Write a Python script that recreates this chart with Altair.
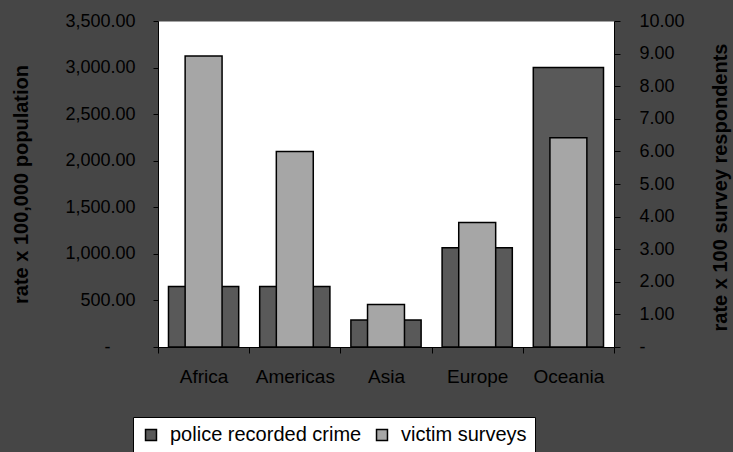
import altair as alt
import pandas as pd

regions = ["Africa", "Americas", "Asia", "Europe", "Oceania"]
police = [650, 650, 290, 1065, 3000]
victim = [8.93, 6.0, 1.3, 3.82, 6.42]
series_names = ["police recorded crime", "victim surveys"]
series_colors = ["#595959", "#a6a6a6"]
left_ticks = [0, 500, 1000, 1500, 2000, 2500, 3000, 3500]
right_ticks = [0, 1, 2, 3, 4, 5, 6, 7, 8, 9, 10]

df = pd.DataFrame({
    "region": regions * 2,
    "series": [series_names[0]] * len(regions) + [series_names[1]] * len(regions),
    "value": police + victim,
})

FONT = "Liberation Sans"
ZERO_LEFT = "-" + "\u00a0" * 5 + "\u200b"

x_enc = alt.X(
    "region:N", sort=regions,
    scale=alt.Scale(paddingInner=0, paddingOuter=0),
    axis=alt.Axis(title=None, tickBand="extent", labelAngle=0, labelFontSize=19,
                  labelFont=FONT, labelColor="#000", domainColor="#000", tickColor="#000",
                  tickSize=6, labelPadding=14, domainWidth=1, tickWidth=1, grid=False),
)

color_enc = alt.Color(
    "series:N",
    scale=alt.Scale(domain=series_names, range=series_colors),
    legend=alt.Legend(title=None, orient="none", legendX=-25, legendY=396,
                      direction="horizontal", fillColor="white", strokeColor="black",
                      padding=8, symbolType="square", symbolSize=120,
                      symbolStrokeColor="black", symbolStrokeWidth=1.5, symbolOpacity=1,
                      labelFontSize=20, labelFont=FONT, labelColor="#000", labelLimit=400,
                      labelOffset=9, columnPadding=10),
)

dark = alt.Chart(df).transform_filter(
    alt.datum.series == series_names[0]
).mark_bar(width=alt.RelativeBandSize(0.77), stroke="black", strokeWidth=1.5, opacity=1).encode(
    x=x_enc,
    y=alt.Y("value:Q", scale=alt.Scale(domain=[0, 3500], nice=False),
            axis=alt.Axis(orient="left", values=left_ticks, grid=False,
                          labelExpr="datum.value == 0 ? '" + ZERO_LEFT + "' : format(datum.value, ',.2f')",
                          labelPadding=18,
                          labelFontSize=18, labelFont=FONT, labelColor="#000",
                          domainColor="#000", tickColor="#000", tickSize=5,
                          title="rate x 100,000 population", titleFont=FONT, titleFontSize=20,
                          titleFontWeight="bold", titleColor="#000", titleAngle=270,
                          titleX=-137, titleY=163, titleAlign="center", titleBaseline="middle")),
    color=color_enc,
)

light = alt.Chart(df).transform_filter(
    alt.datum.series == series_names[1]
).mark_bar(width=alt.RelativeBandSize(0.405), stroke="black", strokeWidth=1.5, opacity=1).encode(
    x=x_enc,
    y=alt.Y("value:Q", scale=alt.Scale(domain=[0, 10], nice=False),
            axis=alt.Axis(orient="right", values=right_ticks, grid=False,
                          labelExpr="datum.value == 0 ? '-' : format(datum.value, '.2f')",
                          labelFontSize=18, labelFont=FONT, labelColor="#000",
                          domainColor="#000", tickColor="#000", tickSize=6, labelPadding=19,
                          title="rate x 100 survey respondents", titleFont=FONT, titleFontSize=20,
                          titleFontWeight="bold", titleColor="#000", titleAngle=270,
                          titleX=106, titleY=166, titleAlign="center", titleBaseline="middle")),
    color=color_enc,
)

chart = alt.layer(dark, light).resolve_scale(y="independent").properties(
    width=456, height=326, background="#464646",
    padding={"left": 158, "top": 21, "right": 119, "bottom": 105},
    autosize=alt.AutoSizeParams(type="none"),
).configure_view(fill="white", stroke="transparent")

chart.save("out.html", embed_options={"renderer": "svg", "actions": False})
